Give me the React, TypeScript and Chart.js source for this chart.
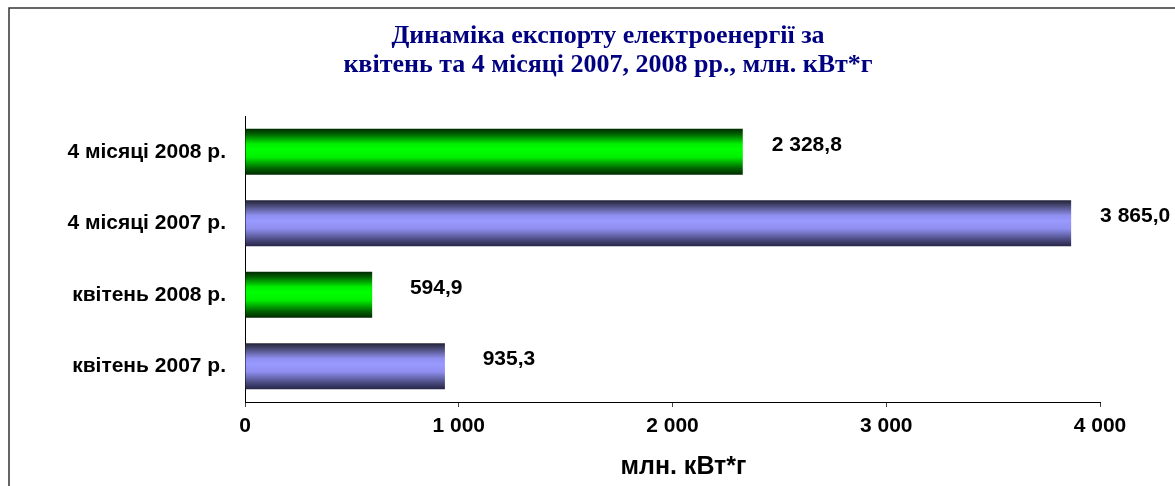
import React, { useEffect, useRef } from "react";
import { Chart, registerables } from "chart.js";

Chart.register(...registerables);

// ---- data ----
const categories = ["4 місяці 2008 р.", "4 місяці 2007 р.", "квітень 2008 р.", "квітень 2007 р."];
const values = [2328.8, 3865.0, 594.9, 935.3];
const seriesYear = ["2008", "2007", "2008", "2007"];
const xMin = 0;
const xMax = 4000;
const xStep = 1000;
const titleLines = ["Динаміка експорту електроенергії за", "квітень та 4 місяці 2007, 2008 рр., млн. кВт*г"];
const axisTitle = "млн. кВт*г";

const SANS = "'Liberation Sans', Arial, sans-serif";
const SERIF = "'Liberation Serif', 'Times New Roman', serif";
const BAR_PCT = 0.64;

const gradientStops: Record<string, [number, string][]> = {
  "2008": [
    [0, "#002a00"],
    [0.12, "#006400"],
    [0.33, "#00f000"],
    [0.45, "#00ff00"],
    [0.62, "#00f000"],
    [0.86, "#006400"],
    [1, "#002a00"],
  ],
  "2007": [
    [0, "#222238"],
    [0.12, "#4a4a78"],
    [0.33, "#8f8ff0"],
    [0.45, "#9999ff"],
    [0.62, "#8f8ff0"],
    [0.86, "#4a4a80"],
    [1, "#262648"],
  ],
};
const fallbackColor: Record<string, string> = { "2008": "#00ff00", "2007": "#9999ff" };

function fmt(v: number, dec: number): string {
  const s = Number(v).toFixed(dec);
  const [i, d] = s.split(".");
  const ii = i.replace(/\B(?=(\d{3})+(?!\d))/g, " ");
  return d ? ii + "," + d : ii;
}

const frameAndTitle = {
  id: "frameAndTitle",
  beforeDraw(chart: any) {
    const ctx = chart.ctx;
    ctx.save();
    ctx.fillStyle = "#ffffff";
    ctx.fillRect(0, 0, chart.width, chart.height);
    ctx.strokeStyle = "#333333";
    ctx.lineWidth = 1.5;
    ctx.beginPath();
    ctx.moveTo(9, chart.height + 5);
    ctx.lineTo(9, 8);
    ctx.lineTo(chart.width + 5, 8);
    ctx.stroke();
    ctx.fillStyle = "#000080";
    ctx.font = `bold 26px ${SERIF}`;
    ctx.textAlign = "center";
    ctx.textBaseline = "middle";
    titleLines.forEach((line, i) => {
      ctx.fillText(line, 608, 36 + i * 29);
    });
    ctx.restore();
  },
};

const valueLabels = {
  id: "valueLabels",
  afterDatasetsDraw(chart: any) {
    const ctx = chart.ctx;
    const meta = chart.getDatasetMeta(0);
    ctx.save();
    ctx.fillStyle = "#000";
    ctx.font = `bold 21px ${SANS}`;
    ctx.textAlign = "center";
    ctx.textBaseline = "middle";
    meta.data.forEach((el: any, i: number) => {
      ctx.fillText(fmt(values[i], 1), el.x + 64, el.y - 7);
    });
    // axis title
    const ca = chart.chartArea;
    ctx.font = `bold 25px ${SANS}`;
    ctx.fillText(axisTitle, (ca.left + ca.right) / 2 + 11, 467);
    ctx.restore();
  },
};

export default function App() {
  const ref = useRef<HTMLCanvasElement | null>(null);
  useEffect(() => {
    document.body.style.margin = "0";
    const canvas = ref.current!;
    const chart = new Chart(canvas, {
      type: "bar",
      data: {
        labels: categories,
        datasets: [
          {
            data: values,
            barPercentage: BAR_PCT,
            categoryPercentage: 1,
            borderWidth: 0,
            backgroundColor: (c: any) => {
              const year = seriesYear[c.dataIndex] || "2007";
              const ch = c.chart;
              const ys = ch.scales && ch.scales.y;
              if (c.type !== "data" || !ys || !ch.chartArea) return fallbackColor[year];
              const center = ys.getPixelForValue(c.dataIndex);
              const band = (ch.chartArea.bottom - ch.chartArea.top) / categories.length;
              const h = band * BAR_PCT;
              const g = ch.ctx.createLinearGradient(0, center - h / 2, 0, center + h / 2);
              gradientStops[year].forEach(([o, col]) => g.addColorStop(o, col));
              return g;
            },
          },
        ],
      },
      options: {
        indexAxis: "y",
        responsive: false,
        animation: false,
        layout: { padding: { top: 116, right: 75, left: 0, bottom: 0 } },
        plugins: { legend: { display: false }, tooltip: { enabled: false }, title: { display: false } },
        scales: {
          x: {
            min: xMin,
            max: xMax,
            ticks: {
              stepSize: xStep,
              callback: (v: any) => fmt(Number(v), 0),
              font: { family: SANS, size: 21, weight: "bold" },
              color: "#000",
              padding: 7,
              maxRotation: 0,
            },
            grid: { drawOnChartArea: false, drawTicks: true, tickLength: 5, color: "#444" },
            border: { display: true, color: "#000", width: 1 },
            title: { display: false },
            afterFit: (s: any) => {
              s.height = 84;
            },
          },
          y: {
            ticks: {
              font: { family: SANS, size: 21, weight: "bold" },
              color: "#000",
              padding: 19,
            },
            grid: { display: false, drawTicks: false },
            border: { display: true, color: "#000", width: 1 },
            afterFit: (s: any) => {
              s.width = 245;
            },
          },
        },
      },
      plugins: [frameAndTitle, valueLabels],
    } as any);
    return () => chart.destroy();
  }, []);
  return <canvas ref={ref} width={1175} height={486} style={{ display: "block" }} />;
}
